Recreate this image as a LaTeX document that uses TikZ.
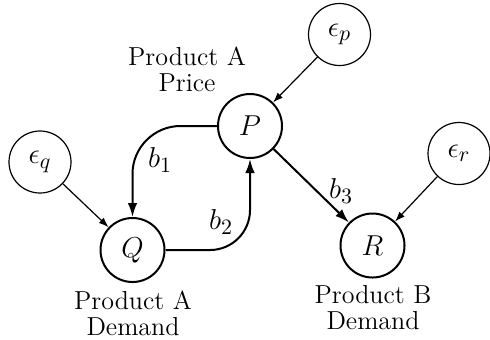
\documentclass[tikz,border=0pt]{standalone}
\usetikzlibrary{arrows.meta}
\begin{document}
\begin{tikzpicture}[x=0.5pt,y=-0.5pt,
  every node/.style={font=\fontsize{13}{13}\selectfont},
  mathtext/.style={font=\fontsize{15}{15}\selectfont},
  mainvar/.style={circle,draw,line width=1pt,minimum size=32pt,inner sep=0pt,mathtext},
  errvar/.style={circle,draw,line width=0.6pt,minimum size=31pt,inner sep=0pt,mathtext},
  thickarrow/.style={line width=1pt,-{Latex[length=7pt,width=4.8pt]}},
  thinarrow/.style={line width=0.6pt,-{Latex[length=5pt,width=3.6pt]}},
  lbl/.style={align=center,inner sep=0pt}]
\useasboundingbox (0,0) rectangle (490,339);
\node[mainvar] (P) at (250,126) {$P$};
\node[mainvar] (Q) at (132.5,250) {$Q$};
\node[mainvar] (R) at (372.5,245.5) {$R$};
\node[errvar] (ep) at (339.5,34.5) {$\epsilon_p$};
\node[errvar] (eq) at (40,162) {$\epsilon_q$};
\node[errvar] (er) at (459,153.5) {$\epsilon_r$};
\node[lbl] (lp) at (187,69) {Product A\\Price};
\node[lbl] (lq) at (133,313) {Product A\\Demand};
\node[lbl] (lr) at (373,308) {Product B\\Demand};
\draw[thickarrow,rounded corners=24pt] (P.west) -| (Q.north);
\draw[thickarrow,rounded corners=20pt] (Q.east) -| (P.south);
\draw[thickarrow] (P) -- (R);
\draw[thinarrow] (ep) -- (P);
\draw[thinarrow] (eq) -- (Q);
\draw[thinarrow] (er) -- (R);
\node[mathtext] (b1) at (160,160) {$b_1$};
\node[mathtext] (b2) at (221,222) {$b_2$};
\node[mathtext] (b3) at (341,191) {$b_3$};
\end{tikzpicture}
\end{document}
